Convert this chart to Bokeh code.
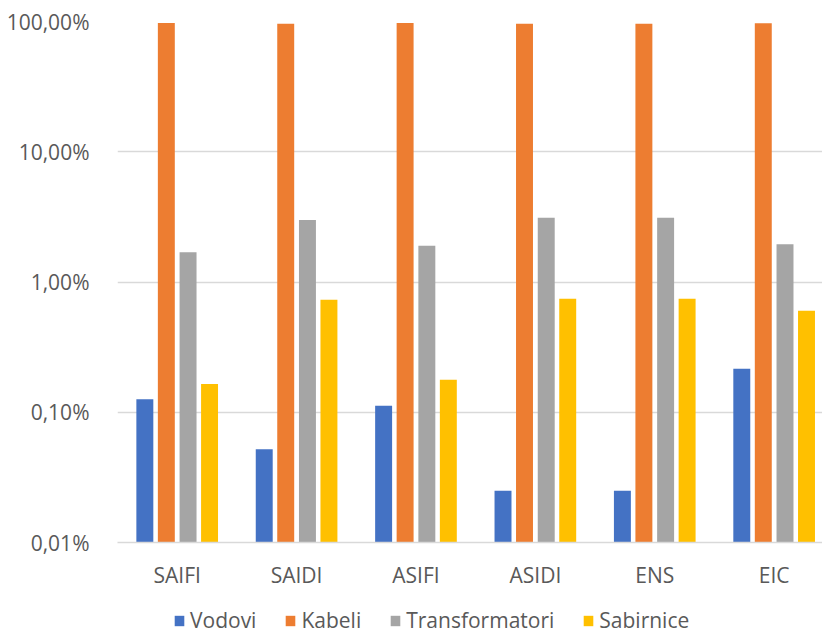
from bokeh.plotting import figure
from bokeh.layouts import column
from bokeh.models import (ColumnDataSource, Range1d, FixedTicker, CustomJSTickFormatter,
                          Legend, LegendItem)
from bokeh.embed import file_html
from bokeh.resources import INLINE

categories = ["SAIFI", "SAIDI", "ASIFI", "ASIDI", "ENS", "EIC"]
series_names = ["Vodovi", "Kabeli", "Transformatori", "Sabirnice"]
# values in percent
vodovi = [0.126, 0.052, 0.112, 0.025, 0.025, 0.216]
kabeli = [97.5, 96.3, 97.5, 95.9, 95.9, 96.9]
transformatori = [1.69, 2.99, 1.90, 3.12, 3.12, 1.95]
sabirnice = [0.165, 0.731, 0.178, 0.744, 0.744, 0.602]
y_ticks = [0.0001, 0.001, 0.01, 0.1, 1.0]

colors = ["#4472C4", "#ED7D31", "#A5A5A5", "#FFC000"]
offsets = [-0.271, -0.091, 0.091, 0.271]
FONT = "Open Sans"

p = figure(width=822, height=600, output_backend="svg", toolbar_location=None,
           y_axis_type="log", x_range=Range1d(0, 5.905), y_range=Range1d(1e-4, 1.0),
           min_border_left=117, min_border_right=0, min_border_top=21, min_border_bottom=58)
p.outline_line_color = None
p.background_fill_color = "white"
p.border_fill_color = "white"

for name, vals, col, off in zip(series_names, [vodovi, kabeli, transformatori, sabirnice], colors, offsets):
    src = ColumnDataSource(dict(
        x=[i + 0.5 + off for i in range(len(categories))],
        top=[v / 100.0 for v in vals],
        bottom=[1e-4] * len(vals),
    ))
    p.vbar(x="x", top="top", bottom="bottom", width=0.142, source=src,
           fill_color=col, line_color=None)

# x axis
xa = p.xaxis[0]
xa.ticker = FixedTicker(ticks=[i + 0.5 for i in range(len(categories))])
xa.major_label_overrides = {i + 0.5: c for i, c in enumerate(categories)}
xa.major_tick_line_color = None
xa.minor_tick_line_color = None
xa.axis_line_color = "#D9D9D9"
xa.axis_line_width = 1.5
xa.major_label_text_font = FONT
xa.major_label_text_font_size = "21px"
xa.major_label_text_color = "#595959"
xa.major_label_standoff = 12

# y axis
ya = p.yaxis[0]
ya.ticker = FixedTicker(ticks=y_ticks, minor_ticks=[])
ya.formatter = CustomJSTickFormatter(code="return (tick*100).toFixed(2).replace('.', ',') + '%';")
ya.major_tick_line_color = None
ya.minor_tick_line_color = None
ya.axis_line_color = None
ya.major_label_text_font = FONT
ya.major_label_text_font_size = "21px"
ya.major_label_text_color = "#595959"
ya.major_label_standoff = 22

p.xgrid.grid_line_color = None
p.ygrid.grid_line_color = "#D9D9D9"
p.ygrid.grid_line_width = 1.5
p.ygrid.ticker = FixedTicker(ticks=y_ticks, minor_ticks=[])

# legend strip below the chart (its frame is aligned with the chart's frame)
lg = figure(width=822, height=34, output_backend="svg", toolbar_location=None,
            x_range=Range1d(0, 1), y_range=Range1d(0, 1),
            x_axis_location=None, y_axis_location=None,
            min_border_left=0, min_border_right=0, min_border_top=0, min_border_bottom=0)
lg.outline_line_color = None
lg.grid.visible = False
lg.background_fill_color = "white"
lg.border_fill_color = "white"
items = []
for name, col in zip(series_names, colors):
    # legend-only renderer, data lies outside the visible range
    r = lg.vbar(x=[5], top=[5], bottom=[4], width=0.1, fill_color=col, line_color=None)
    items.append(LegendItem(label=name, renderers=[r]))
legend = Legend(items=items, orientation="horizontal", location=(56, 0),
                glyph_width=12, glyph_height=13, label_standoff=5, spacing=28,
                padding=0, margin=0, border_line_color=None, background_fill_alpha=0,
                label_text_font=FONT, label_text_font_size="21px", label_text_color="#595959")
lg.add_layout(legend, "center")

layout = column(p, lg, spacing=0)
open("out.html", "w").write(file_html(layout, INLINE))
